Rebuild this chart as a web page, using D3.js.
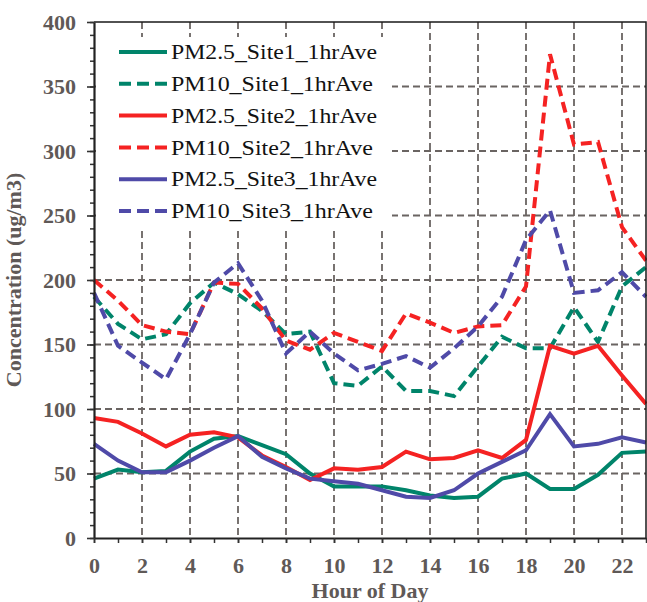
<!DOCTYPE html>
<html>
<head>
<script src="https://cdn.jsdelivr.net/npm/d3@7"></script>
<style>
  body { margin: 0; background: #fff; }
  text { font-family: "Liberation Serif", "Times New Roman", serif; }
</style>
</head>
<body>
<div id="viz"></div>
<script>
// hourly averages
var hours = [0,1,2,3,4,5,6,7,8,9,10,11,12,13,14,15,16,17,18,19,20,21,22,23];
var pm25Site1 = [46,53,51,52,67,77,79,72,65,50,40,40,40,37,33,31,32,46,50,38,38,49,66,67];
var pm10Site1 = [187,166,154,158,182,198,189,176,158,160,120,118,133,114,114,110,133,156,147,147,179,152,195,210];
var pm25Site2 = [93,90,81,71,80,82,78,64,55,45,54,53,55,67,61,62,68,62,76,149,143,149,126,104];
var pm10Site2 = [200,184,165,160,158,198,197,178,153,146,159,152,145,174,167,159,164,165,195,375,305,307,241,215];
var pm25Site3 = [73,60,51,51,60,70,79,63,54,46,44,42,37,32,31,37,50,59,68,96,71,73,78,74];
var pm10Site3 = [190,149,136,123,158,198,213,184,143,160,143,130,135,141,132,147,164,187,231,254,190,192,206,187];

var seriesNames = ["PM2.5_Site1_1hrAve","PM10_Site1_1hrAve","PM2.5_Site2_1hrAve",
                   "PM10_Site2_1hrAve","PM2.5_Site3_1hrAve","PM10_Site3_1hrAve"];
var seriesValues = [pm25Site1, pm10Site1, pm25Site2, pm10Site2, pm25Site3, pm10Site3];
var yTicks = [0,50,100,150,200,250,300,350,400];
var xTicks = [0,2,4,6,8,10,12,14,16,18,20,22];

var green = "#00846a", red = "#f52222", blue = "#4f4aa8";
var colors = [green, green, red, red, blue, blue];
var dashed = [false, true, false, true, false, true];
var grey = "#5f5957";

var W = 647, H = 602;
var pLeft = 94, pRight = 646, pTop = 22, pBottom = 538;

var svg = d3.select("#viz").append("svg")
    .attr("width", W)
    .attr("height", H);

var x = d3.scaleLinear().domain([0, 23]).range([pLeft, pRight]);
var y = d3.scaleLinear().domain([0, 400]).range([pBottom, pTop]);

// grid
var grid = svg.append("g");
grid.selectAll("line.h")
    .data(yTicks.filter(function(v) { return v > 0 && v < 400; }))
  .enter().append("line")
    .attr("x1", pLeft).attr("x2", pRight)
    .attr("y1", function(v) { return y(v); })
    .attr("y2", function(v) { return y(v); })
    .style("stroke", "#6a6462")
    .style("stroke-width", 1.8)
    .style("stroke-dasharray", "7,4");
grid.selectAll("line.v")
    .data(xTicks.filter(function(v) { return v > 0; }))
  .enter().append("line")
    .attr("y1", pTop).attr("y2", pBottom)
    .attr("x1", function(v) { return x(v); })
    .attr("x2", function(v) { return x(v); })
    .style("stroke", "#6a6462")
    .style("stroke-width", 1.8)
    .style("stroke-dasharray", "7,4");

// legend background hides the grid behind it
svg.append("rect")
    .attr("x", 96).attr("y", 37)
    .attr("width", 296).attr("height", 191)
    .style("fill", "#fff");

// lines
var line = d3.line()
    .x(function(d, i) { return x(hours[i]); })
    .y(function(d) { return y(d); });

seriesValues.forEach(function(vals, k) {
  svg.append("path")
    .datum(vals)
    .attr("d", line)
    .style("fill", "none")
    .style("stroke", colors[k])
    .style("stroke-width", 4)
    .style("stroke-linejoin", "miter")
    .style("stroke-dasharray", dashed[k] ? "11,6" : null);
});

// frame top/right
svg.append("path")
    .attr("d", "M" + pLeft + "," + pTop + "H" + pRight + "V" + pBottom)
    .style("fill", "none")
    .style("stroke", "#1a1a1a")
    .style("stroke-width", 1.5);

// y axis: minor ticks then major ticks with labels
var yMinor = d3.range(0, 401, 10);
svg.append("g")
    .attr("transform", "translate(" + pLeft + ",0)")
    .call(d3.axisLeft(y).tickValues(yMinor).tickSize(4).tickFormat(""))
    .call(function(g) { g.select(".domain").remove(); })
    .selectAll("line").style("stroke", "#333").style("stroke-width", 1.5);

var yAxis = svg.append("g")
    .attr("transform", "translate(" + pLeft + ",0)")
    .call(d3.axisLeft(y).tickValues(yTicks).tickSize(7).tickSizeOuter(0).tickPadding(11));
yAxis.select(".domain").style("stroke", "#222").style("stroke-width", 2.2);
yAxis.selectAll("line").style("stroke", "#333").style("stroke-width", 1.6);
yAxis.selectAll("text")
    .attr("dy", "0.34em")
    .style("font-family", "'Liberation Serif', 'Times New Roman', serif")
    .style("font-size", "22px")
    .style("font-weight", "bold")
    .style("fill", grey);

// x axis
svg.append("g")
    .attr("transform", "translate(0," + pBottom + ")")
    .call(d3.axisBottom(x).tickValues(hours).tickSize(5).tickFormat(""))
    .call(function(g) { g.select(".domain").remove(); })
    .selectAll("line").style("stroke", "#333").style("stroke-width", 1.5);

var xAxis = svg.append("g")
    .attr("transform", "translate(0," + pBottom + ")")
    .call(d3.axisBottom(x).tickValues(xTicks).tickSize(5).tickSizeOuter(0).tickPadding(14));
xAxis.select(".domain").style("stroke", "#222").style("stroke-width", 2.2);
xAxis.selectAll("line").style("stroke", "#333").style("stroke-width", 1.6);
xAxis.selectAll("text")
    .style("font-family", "'Liberation Serif', 'Times New Roman', serif")
    .style("font-size", "22px")
    .style("font-weight", "bold")
    .style("fill", grey);

// axis titles
svg.append("text")
    .attr("transform", "translate(21," + ((pTop + pBottom) / 2) + ") rotate(-90)")
    .style("text-anchor", "middle")
    .style("font-size", "22px")
    .style("font-weight", "bold")
    .style("fill", grey)
    .text("Concentration (ug/m3)");

svg.append("text")
    .attr("x", (pLeft + pRight) / 2)
    .attr("y", 598)
    .style("text-anchor", "middle")
    .style("font-size", "22px")
    .style("font-weight", "bold")
    .style("fill", grey)
    .text("Hour of Day");

// legend
var ly = d3.scalePoint().domain(seriesNames).range([52, 211]);
var legend = svg.append("g");
seriesNames.forEach(function(name, k) {
  legend.append("line")
    .attr("x1", 119).attr("x2", 167)
    .attr("y1", ly(name)).attr("y2", ly(name))
    .style("stroke", colors[k])
    .style("stroke-width", 4)
    .style("stroke-dasharray", dashed[k] ? "12,6" : null);
  legend.append("text")
    .attr("x", 171)
    .attr("y", ly(name))
    .attr("dy", "0.34em")
    .attr("textLength", name.indexOf("PM10") === 0 ? 202 : 206)
    .attr("lengthAdjust", "spacingAndGlyphs")
    .style("font-size", "21px")
    .style("fill", "#111")
    .text(name);
});
</script>
</body>
</html>
